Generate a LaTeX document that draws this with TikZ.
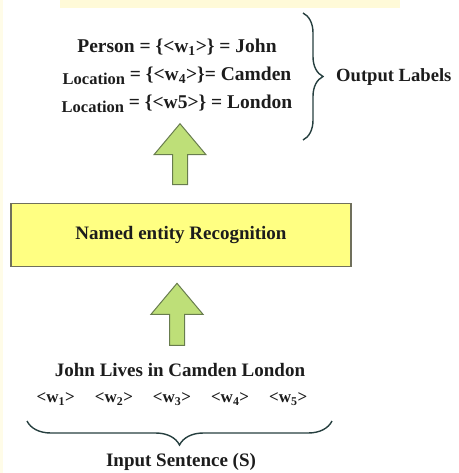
\documentclass[tikz,border=0pt]{standalone}
\usepackage[svgnames]{xcolor}
\usepackage{fontspec}
\setmainfont{Liberation Serif}
\usetikzlibrary{
  calc,
  decorations.pathreplacing
}
\definecolor{nerfill}{RGB}{255,255,130}
\definecolor{nerline}{RGB}{112,112,92}
\definecolor{greenfill}{RGB}{190,223,120}
\definecolor{greenline}{RGB}{104,124,78}
\definecolor{inktext}{RGB}{28,28,28}
\colorlet{band}{LightYellow!80!Moccasin}

% block arrow pointing up, from #1 (shaft foot) to #2 (tip)
\newcommand{\blockup}[2]{%
  \draw[blockarrow] ($(#1)+(-7.5,0)$) -- ($(#1)+(7.5,0)$)
    -- ($(#2)+(7.5,31)$) -- ($(#2)+(26,31)$) -- (#2)
    -- ($(#2)+(-26,31)$) -- ($(#2)+(-7.5,31)$) -- cycle;%
}
\newcommand{\locword}{\raisebox{-4pt}{\fontsize{16.5}{16.5}\selectfont Location}}

\begin{document}
\begin{tikzpicture}[
  x=1pt, y=-1pt,
  every node/.style={font=\bfseries\fontsize{19}{28}\selectfont, text=inktext, inner sep=0pt},
  nerbox/.style={draw=nerline, line width=1.6pt, fill=nerfill, minimum width=340, minimum height=63},
  blockarrow/.style={draw=greenline, line width=1pt, fill=greenfill, line join=miter},
  bracket/.style={decorate, decoration={brace, amplitude=#1}, draw=DarkSlateGray!80!black, line width=1.4pt},
]
\useasboundingbox (0,0) rectangle (458,473);
\fill[band] (60,0) rectangle (400,8);
\fill[band!60!white] (0,0) rectangle (3,473);

% output side
\node[align=center, font=\bfseries\fontsize{19.5}{28}\selectfont] (outs) at (177,76)
  {Person = \{<w\textsubscript{1}>\} = John\\
   \locword{} = \{<w\textsubscript{4}>\}= Camden\\
   \locword{} = \{<w5>\} = London};
\coordinate (outtop) at (303,13);
\coordinate (outbot) at (303,140);
\draw[bracket=20] (outtop) -- (outbot);
\node[anchor=west, font=\bfseries\fontsize{18.6}{24}\selectfont] (outlab) at (336,77) {Output Labels};

% recogniser
\node[nerbox] (ner) at (181,235) {Named entity Recognition};

% input side
\node (sent) at (180,370) {John Lives in Camden London};
\node[font=\bfseries\fontsize{17}{20}\selectfont] (words) at (172,399)
  {<w\textsubscript{1}>\hspace{20pt}<w\textsubscript{2}>\hspace{20pt}<w\textsubscript{3}>\hspace{20pt}<w\textsubscript{4}>\hspace{20pt}<w\textsubscript{5}>};
\coordinate (inright) at (332,421);
\coordinate (inleft) at (27,421);
\draw[bracket=24] (inright) -- (inleft);
\node (inlab) at (181,462) {Input Sentence (S)};

% block arrows
\coordinate (upAfoot) at ($(ner.north)+(-1,-18)$);
\coordinate (upAtip) at ($(upAfoot)+(0,-61)$);
\blockup{upAfoot}{upAtip}
\coordinate (upBtip) at ($(ner.south)+(-4,16)$);
\coordinate (upBfoot) at ($(upBtip)+(0,62)$);
\blockup{upBfoot}{upBtip}
\end{tikzpicture}
\end{document}
